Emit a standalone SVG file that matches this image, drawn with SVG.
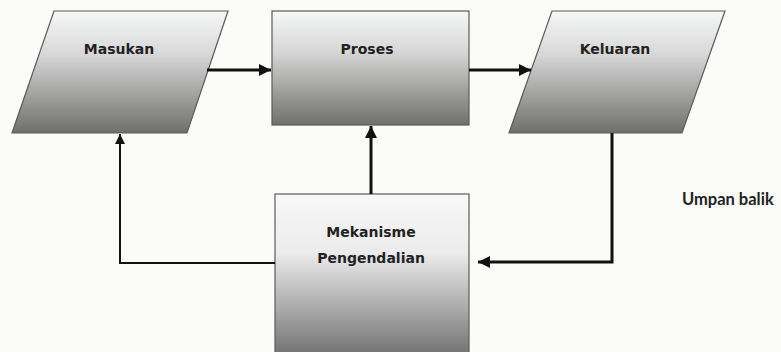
<svg xmlns="http://www.w3.org/2000/svg" width="781" height="352" viewBox="0 0 781 352">
<defs>
<linearGradient id="g1" x1="0" y1="0" x2="0" y2="1">
<stop offset="0" stop-color="#f6f7f7"/>
<stop offset="0.35" stop-color="#d8d8d8"/>
<stop offset="1" stop-color="#6f6f6d"/>
</linearGradient>
<linearGradient id="g2" x1="0" y1="0" x2="0" y2="1">
<stop offset="0" stop-color="#f8f8f8"/>
<stop offset="0.35" stop-color="#ebebeb"/>
<stop offset="1" stop-color="#686868"/>
</linearGradient>
<marker id="ah" viewBox="0 0 10 10" refX="10" refY="5" markerWidth="4" markerHeight="4" orient="auto" markerUnits="strokeWidth">
<path d="M0,0 L10,5 L0,10 z" fill="#111"/>
</marker>
<marker id="ah2" viewBox="0 0 10 10" refX="10" refY="5" markerWidth="5" markerHeight="5" orient="auto" markerUnits="strokeWidth">
<path d="M0,0 L10,5 L0,10 z" fill="#111"/>
</marker>
</defs>
<style>
.shape{stroke:#5a5a5a;stroke-width:1.2}
.lbl{font-family:"DejaVu Sans",sans-serif;font-size:14px;fill:#222;text-anchor:middle;font-weight:bold}
.conn{fill:none;stroke:#111;stroke-width:3}
.thin{fill:none;stroke:#111;stroke-width:2}
</style>
<rect width="781" height="352" fill="#fbfbf8"/>
<g id="masukan">
<polygon class="shape" fill="url(#g1)" points="54,11 228,11 187,133 12,133"/>
<text class="lbl" x="119" y="54">Masukan</text>
</g>
<g id="proses">
<rect class="shape" fill="url(#g1)" x="272" y="11" width="197" height="114"/>
<text class="lbl" x="367" y="54">Proses</text>
</g>
<g id="keluaran">
<polygon class="shape" fill="url(#g1)" points="552,11 725,11 682,133 509,133"/>
<text class="lbl" x="615" y="54">Keluaran</text>
</g>
<g id="mekanisme">
<rect class="shape" fill="url(#g2)" x="275" y="194" width="194" height="170"/>
<text class="lbl" x="371" y="237">Mekanisme</text>
<text class="lbl" x="371" y="263">Pengendalian</text>
</g>
<g id="umpan">
<text x="682" y="205" style="font-family:'Lato','Liberation Sans',sans-serif;font-size:16.5px;font-weight:bold;fill:#222">Umpan balik</text>
</g>
<g id="connectors">
<line class="conn" x1="207" y1="70" x2="271" y2="70" marker-end="url(#ah)"/>
<line class="conn" x1="469" y1="70" x2="531" y2="70" marker-end="url(#ah)"/>
<line class="conn" x1="371" y1="194" x2="371" y2="126" marker-end="url(#ah)"/>
<polyline class="thin" points="275,263 120,263 120,134" marker-end="url(#ah2)"/>
<polyline class="conn" points="612,133 612,262 478,262" marker-end="url(#ah)"/>
</g>
</svg>
